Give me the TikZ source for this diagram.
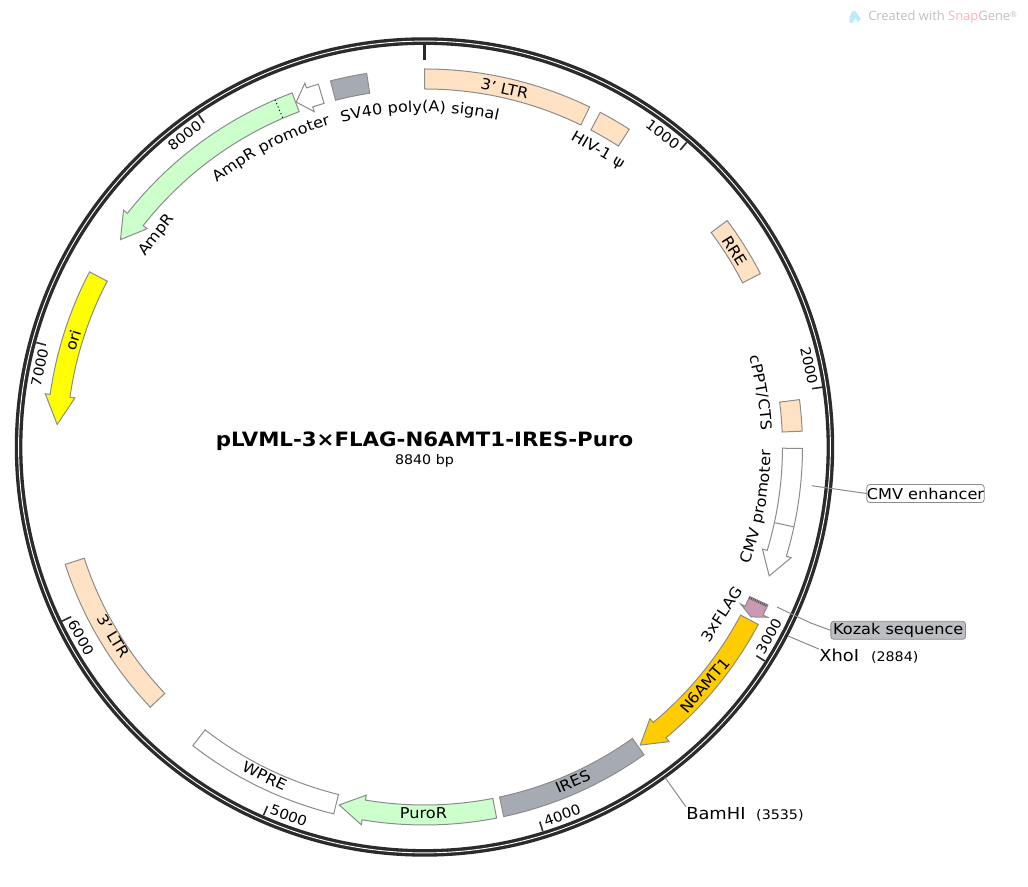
\documentclass[tikz,border=0pt]{standalone}
\usepackage{fontspec}
\setmainfont[FakeStretch=1.08]{DejaVu Sans}
\newfontfamily\wmfont{Open Sans}
\usetikzlibrary{decorations.text}
\definecolor{pmring}{HTML}{2B2B2B}
\definecolor{pmedge}{HTML}{8C8C8C}
\definecolor{pmltr}{HTML}{FFE2C4}
\definecolor{pmgreen}{HTML}{CCFFCC}
\definecolor{pmgrey}{HTML}{A6ABB3}
\definecolor{pmgold}{HTML}{FFCC00}
\definecolor{pmori}{HTML}{FFFF00}
\definecolor{pmflag}{HTML}{CC99B2}
\definecolor{pmkozak}{HTML}{BCBEC2}
\newcommand{\pmfont}{\fontsize{11.2}{13}\selectfont}
\newcommand{\pmsmall}{\fontsize{9.9}{12}\selectfont}
\tikzset{
  pm feature/.style={
    draw=pmedge, line width=0.75pt, line join=miter
  },
  pm label/.style={
    font=\pmfont, inner sep=0pt
  },
  pm tick/.style={
    font=\fontsize{10.4}{12}\selectfont, inner sep=0pt
  },
  pm site/.style={
    font=\fontsize{12.4}{14}\selectfont, inner sep=0pt, anchor=west
  },
  pm box/.style={
    pm label, draw=pmedge, fill=white, rounded corners=2.2pt,
    line width=0.6pt, minimum width=88pt, minimum height=13.5pt
  },
  pm leader/.style={
    draw=pmedge, line width=0.75pt
  }
}
% #1 fill, #2 start, #3 end (degrees clockwise from the top)
\newcommand{\pmband}[3]{
  \draw [pm feature, fill=#1] ({90-#2}:378)
    arc[start angle={90-#2}, end angle={90-#3}, radius=378]
    -- ({90-#3}:358)
    arc[start angle={90-#3}, end angle={90-#2}, radius=358] -- cycle;
}
% #1 fill, #2 start, #3 head base, #4 tip
\newcommand{\pmarrow}[4]{
  \draw [pm feature, fill=#1] ({90-#2}:378)
    arc[start angle={90-#2}, end angle={90-#3}, radius=378]
    -- ({90-#3}:383) -- ({90-#4}:368) -- ({90-#3}:353) -- ({90-#3}:358)
    arc[start angle={90-#3}, end angle={90-#2}, radius=358] -- cycle;
}
% #1 middle, #2 half span, #3 baseline radius, #4 text
\newcommand{\pmcurveout}[4]{
  \path [decorate, decoration={text along path, text align=center, text={|\pmfont|#4}}]
    ({90-#1+#2}:#3) arc[start angle={90-#1+#2}, end angle={90-#1-#2}, radius=#3];
}
\newcommand{\pmcurvein}[4]{
  \path [decorate, decoration={text along path, text align=center, text={|\pmfont|#4}}]
    ({90-#1-#2}:#3) arc[start angle={90-#1-#2}, end angle={90-#1+#2}, radius=#3];
}

\begin{document}
\begin{tikzpicture}[x=0.75pt, y=0.75pt]
  \useasboundingbox (-424.5,-440) rectangle (603.5,447);

  % backbone
  \draw [pmring, line width=5.7pt] (0,0) circle[radius=405.9];
  \draw [white, line width=0.7pt] (0,0) circle[radius=405.9];
  \draw [pmring, line width=2pt] (90:403) -- (90:387);

  % ticks
  \foreach \pos in {1000,2000,3000,4000,5000,6000,7000,8000} {
    \pgfmathsetmacro{\ang}{\pos/8840*360}
    \pgfmathsetmacro{\txt}{\ang-3.4}
    \pgfmathsetmacro{\rot}{(\txt>90 && \txt<270) ? 180-\txt : -\txt}
    \draw [pmring, line width=1.2pt] ({90-\ang}:402) -- ({90-\ang}:392);
    \node (tick\pos) [pm tick, rotate=\rot] at ({90-\txt}:393) {\pos};
  }

  % features
  \pmband{pmltr}{0}{25.9}
  \pmband{pmltr}{27.7}{32.8}
  \pmband{pmltr}{53.2}{62.7}
  \pmband{pmltr}{82.8}{87.6}
  \pmarrow{white}{90.2}{106.8}{110.5}
  \draw [pm feature] ({90-102.2}:378) -- ({90-102.2}:358);
  \pmarrow{pmflag}{114.7}{116.4}{117.5}
  \draw [pmring!80, line width=1.8pt, dash pattern=on 0.75pt off 0.75pt]
    ({90-114.9}:358) -- ({90-114.9}:377);
  \pmarrow{pmgold}{118}{140.3}{144.1}
  \pmband{pmgrey}{144.5}{167.9}
  \pmarrow{pmgreen}{169}{189.5}{193.4}
  \pmband{white}{193.9}{217.8}
  \pmband{pmltr}{226.5}{251.9}
  \pmarrow{pmori}{297.6}{278}{273.5}
  \pmarrow{pmgreen}{339.5}{308.2}{304.3}
  \draw [black, line width=0.75pt, dotted] ({90-336.7}:378) -- ({90-336.7}:358);
  \pmarrow{white}{343.7}{341.8}{339.6}
  \pmband{pmgrey}{345.6}{351.2}

  % labels in the bands
  \node (ltra) [pm label, rotate=-12.6] at ({90-12.6}:367) {3' LTR};
  \node (rre) [pm label, rotate=-57.7] at ({90-57.7}:367) {RRE};
  \node (nsix) [pm label, rotate=49.6] at ({90-130.4}:368) {N6AMT1};
  \node (ires) [pm label, rotate=23.9] at ({90-156.1}:366) {IRES};
  \node (puro) [pm label] at (-1,-366) {PuroR};
  \node (wpre) [pm label, rotate=-25.9] at ({90-205.9}:366) {WPRE};
  \node (ltrb) [pm label, rotate=-58.7] at ({90-238.7}:364) {3' LTR};
  \node (ori) [pm label, rotate=73.1] at ({90-286.9}:367) {ori};

  % labels beside the bands
  \node (hiv) [pm label, rotate=-30.3] at ({90-30.3}:343) {HIV-1 ψ};
  \node (flag) [pm label, rotate=57] at ({90-119.4}:341) {3xFLAG};
  \node (amp) [pm label, rotate=51.7] at ({90+51.7}:341) {AmpR};
  \pmcurveout{-0.8}{17}{335}{SV40 poly(A) signal}
  \pmcurveout{-27.2}{17}{336}{AmpR promoter}
  \pmcurveout{80.8}{12}{337}{cPPT/CTS}
  \pmcurvein{100.2}{14}{346}{CMV promoter}

  % centre
  \node (title) [font=\fontsize{14.8}{18}\selectfont\bfseries, inner sep=0pt] at (0,6) {pLVML-3×FLAG-N6AMT1-IRES-Puro};
  \node (size) [font=\fontsize{9.9}{11}\selectfont, inner sep=0pt] at (0,-14) {8840 bp};

  % sites and leaders
  \node (enh) [pm box] at (501,-46.5) {CMV enhancer};
  \coordinate (enhpt) at (387.2,-38.7);
  \draw [pm leader] (enhpt) -- (enh.west);
  \node (koz) [pm box, fill=pmkozak, minimum width=101pt] at (473.7,-183.3) {Kozak sequence};
  \coordinate (kozpt) at (352.5,-160);
  \coordinate (kozmid) at (385.5,-175.7);
  \draw [pm leader] (kozpt) -- (kozmid) -- (koz.west);
  \node (xho) [pm site] at (394.5,-209.5) {XhoI\hspace{9pt}{\pmsmall (2884)}};
  \coordinate (xhopt) at (363.5,-189);
  \draw [pm leader] (xhopt) -- (xho.north west);
  \node (bam) [pm site] at (261.5,-367) {BamHI\hspace{8pt}{\pmsmall (3535)}};
  \coordinate (bampt) at (240.5,-330.5);
  \draw [pm leader] (bampt) -- (bam.north west);

  % watermark
  \fill [cyan!25] (425,430) -- (428,436) -- (431,436) -- (436.5,428) -- (433,425) -- (431,429) -- (428,424) -- (425,424) -- cycle;
  \node (mark) [inner sep=0pt, anchor=west, text=black!25, font=\wmfont\fontsize{9.7}{12}\selectfont] at (443.5,430)
    {Created with \textcolor{red!30}{Snap}Gene\raisebox{2.5pt}{\fontsize{6}{7}\selectfont ®}};
\end{tikzpicture}
\end{document}
